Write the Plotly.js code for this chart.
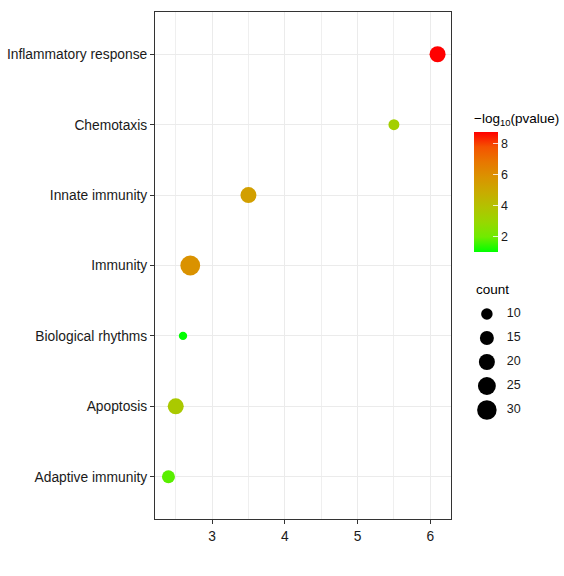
<!DOCTYPE html>
<html>
<head>
<meta charset="utf-8">
<script src="https://cdn.plot.ly/plotly-3.0.1.min.js"></script>
<style>html,body{margin:0;padding:0;background:#fff;}#chart{width:564px;height:576px;}</style>
</head>
<body>
<div id="chart"></div>
<script>
// Data (bottom to top)
var terms = ["Adaptive immunity", "Apoptosis", "Biological rhythms", "Immunity", "Innate immunity", "Chemotaxis", "Inflammatory response"];
var enrichment = [2.4, 2.5, 2.6, 2.7, 3.5, 5.5, 6.1];
var neglog10p = [1.8, 3.6, 1.03, 5.9, 5.4, 3.35, 8.77];
var counts = [13, 20, 5, 31, 20, 9, 20];
var sizeBreaks = [10, 15, 20, 25, 30];
var colorTicks = [2, 4, 6, 8];

function diam(c) { return 3.45 * Math.sqrt(c) + 0.6; }

var colorscale = [
  [0, "#00FF00"], [0.125, "#70EB00"], [0.25, "#98D700"], [0.375, "#B3C200"],
  [0.5, "#C9AB00"], [0.625, "#DA9300"], [0.75, "#E87700"], [0.875, "#F45300"], [1, "#FF0000"]
];

var font = "Liberation Sans, Arial, Helvetica, sans-serif";

var L = 155, R = 10, T = 12, B = 57;
var pw = 564 - L - R, ph = 576 - T - B;
function px2x(p) { return (p - L) / pw; }
function px2y(p) { return (576 - B - p) / ph; }

var xmin = Math.min.apply(null, enrichment), xmax = Math.max.apply(null, enrichment);
var pad = (xmax - xmin) * 0.05;

var main = {
  type: "scatter", mode: "markers",
  x: enrichment, y: terms,
  xaxis: "x", yaxis: "y",
  showlegend: false, hoverinfo: "x+y",
  marker: {
    size: counts.map(diam), sizemode: "diameter",
    color: neglog10p, colorscale: colorscale,
    line: {width: 0}, opacity: 1,
    colorbar: {
      title: {text: "\u2212log<sub>10</sub>(pvalue)", side: "top", font: {family: font, size: 13.5, color: "#000"}},
      x: px2x(474), xanchor: "left",
      y: px2y(252), yanchor: "bottom",
      thickness: 24, thicknessmode: "pixels",
      len: 142, lenmode: "pixels",
      outlinewidth: 0,
      tickvals: colorTicks,
      tickprefix: "\u2004",
      ticks: "inside", ticklen: 5, tickcolor: "rgba(255,255,255,0.8)", tickwidth: 1,
      tickfont: {family: font, size: 12.5, color: "#1A1A1A"},
      xpad: 0, ypad: 0
    }
  }
};

var idx = sizeBreaks.map(function(_, i) { return i; });
var sizeDots = {
  type: "scatter", mode: "markers",
  x: sizeBreaks.map(function() { return 0.23; }), y: idx,
  xaxis: "x2", yaxis: "y2", showlegend: false, hoverinfo: "skip",
  marker: {size: sizeBreaks.map(diam), sizemode: "diameter", color: "#000", opacity: 1, line: {width: 0}}
};
var sizeText = {
  type: "scatter", mode: "text",
  x: sizeBreaks.map(function() { return 0.585; }), y: idx,
  text: sizeBreaks.map(String), textposition: "middle right",
  textfont: {family: font, size: 12.5, color: "#1A1A1A"},
  xaxis: "x2", yaxis: "y2", showlegend: false, hoverinfo: "skip"
};

var layout = {
  width: 564, height: 576,
  margin: {l: L, r: R, t: T, b: B, pad: 0, autoexpand: false},
  paper_bgcolor: "#fff", plot_bgcolor: "#fff",
  font: {family: font, size: 13, color: "#1A1A1A"},
  xaxis: {
    domain: [0, px2x(451)],
    range: [xmin - pad, xmax + pad],
    dtick: 1, tick0: 0,
    showgrid: true, gridcolor: "#EBEBEB", gridwidth: 1,
    minor: {dtick: 0.5, showgrid: true, gridcolor: "#EBEBEB", gridwidth: 0.8, ticks: ""},
    zeroline: false,
    showline: true, linecolor: "#333333", linewidth: 1, mirror: true,
    ticks: "outside", ticklen: 4, tickcolor: "#333333", tickwidth: 1,
    tickfont: {family: font, size: 13.8, color: "#1A1A1A"}
  },
  yaxis: {
    type: "category", categoryorder: "array", categoryarray: terms,
    range: [-0.6, terms.length - 1 + 0.6],
    showgrid: true, gridcolor: "#EBEBEB", gridwidth: 1,
    zeroline: false,
    showline: true, linecolor: "#333333", linewidth: 1, mirror: true,
    ticks: "outside", ticklen: 4, tickcolor: "#333333", tickwidth: 1,
    tickfont: {family: font, size: 13.8, color: "#1A1A1A"}
  },
  xaxis2: {
    domain: [px2x(474), px2x(530)], range: [0, 1],
    anchor: "y2", visible: false, fixedrange: true
  },
  yaxis2: {
    domain: [px2y(422), px2y(302)], range: [4.5, -0.5],
    anchor: "x2", visible: false, fixedrange: true
  },
  annotations: [{
    text: "count", xref: "paper", yref: "paper",
    x: px2x(474), xanchor: "left",
    y: px2y(289), yanchor: "middle",
    showarrow: false, font: {family: font, size: 13.5, color: "#000"}
  }]
};

Plotly.newPlot("chart", [main, sizeDots, sizeText], layout, {displayModeBar: false, staticPlot: true});
</script>
</body>
</html>
